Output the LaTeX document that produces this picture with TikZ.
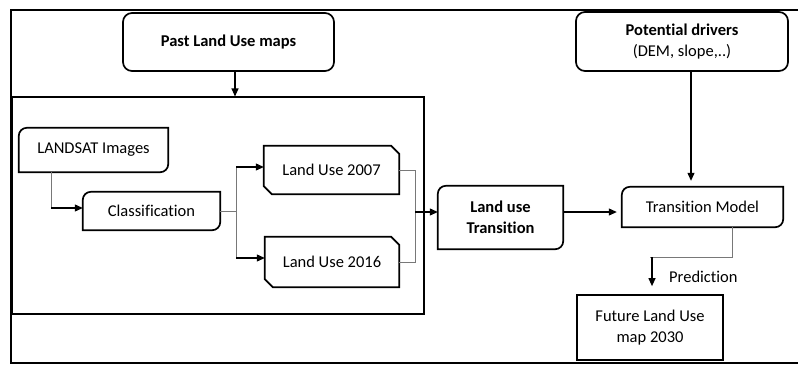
\documentclass[tikz,border=0pt]{standalone}
\usepackage{fontspec}
\setmainfont{Carlito}[Ligatures=NoCommon]
\usetikzlibrary{arrows.meta,calc}
\definecolor{thinc}{RGB}{120,120,120}
\tikzset{
  lbl/.style={inner sep=0pt, align=center, font=\fontsize{16.5bp}{21bp}\selectfont},
  boxline/.style={line width=1.7bp, black},
  innerline/.style={line width=1.1bp, black},
  thinline/.style={line width=0.8bp, thinc},
  arr/.style={line width=1.1bp, black, -{Triangle[length=8bp,width=7bp]}},
}
\newcommand\rdiag[1]{%
  \draw[boxline] ([yshift=-8bp]#1.north west) arc[start angle=180,end angle=90,radius=8bp]
    -- (#1.north east) -- ([yshift=8bp]#1.south east)
    arc[start angle=0,end angle=-90,radius=8bp] -- (#1.south west) -- cycle;}
\newcommand\snipdiag[1]{%
  \draw[boxline] (#1.north west) -- ([xshift=-8bp]#1.north east) -- ([yshift=-8bp]#1.north east)
    -- (#1.south east) -- ([xshift=8bp]#1.south west) -- ([yshift=8bp]#1.south west) -- cycle;}
\begin{document}
\begin{tikzpicture}[x=1bp,y=-1bp]
\useasboundingbox (0,0) rectangle (798,365);
% outer frame (right side cut off)
\draw[line width=1.4bp] (798,10) -- (11,10) -- (11,363) -- (798,363);
% inner box
\node[draw, innerline, minimum width=412bp, minimum height=217bp, inner sep=0pt] (inner) at (218,205.5) {};
% boxes
\node[lbl, draw, boxline, rounded corners=9bp, minimum width=211bp, minimum height=58bp] (past) at (228.5,42) {\textbf{Past Land Use maps}};
\node[lbl, draw, boxline, rounded corners=9bp, minimum width=212bp, minimum height=59bp] (drivers) at (682,41.5) {\textbf{Potential drivers}\\(DEM, slope,..)};
\node[lbl, minimum width=149bp, minimum height=44bp] (landsat) at (93.5,150) {LANDSAT Images};
\rdiag{landsat}
\node[lbl, minimum width=137bp, minimum height=38bp] (classif) at (151.5,211) {Classification};
\rdiag{classif}
\node[lbl, minimum width=135bp, minimum height=48bp] (lu07) at (331.5,170) {Land Use 2007};
\snipdiag{lu07}
\node[lbl, minimum width=134bp, minimum height=50bp] (lu16) at (332,262) {Land Use 2016};
\snipdiag{lu16}
\node[lbl, minimum width=125bp, minimum height=63bp] (lut) at (500.5,217.5) {\textbf{Land use}\\\textbf{Transition}};
\rdiag{lut}
\node[lbl, minimum width=161bp, minimum height=40bp] (tm) at (702.5,207) {Transition Model};
\rdiag{tm}
\node[lbl, draw, boxline, minimum width=146bp, minimum height=65bp] (future) at (650,327.5) {Future Land Use\\map 2030};
\node[lbl, anchor=west] (pred) at (669,277) {Prediction};
% connectors
\draw[arr] ([xshift=6.5bp]past.south) -- ([xshift=6.5bp]past.south |- inner.north);
\draw[arr, shorten >=6bp] ([xshift=9bp]drivers.south) -- ([xshift=9bp]drivers.south |- tm.north);
\path ([xshift=-42.5bp]landsat.south) coordinate (ls) ([yshift=3bp]classif.west) coordinate (cw);
\draw[thinline] (ls) -- (ls |- cw);
\draw[arr] (ls |- cw) -- (cw);
\draw[thinline] (classif.east) -- ++(16,0) coordinate (sp);
\path ([yshift=3bp]lu07.west) coordinate (w07) ([yshift=4bp]lu16.west) coordinate (w16);
\draw[thinline] (sp |- w07) -- (sp |- w16);
\draw[arr] (sp |- w07) -- (w07);
\draw[arr] (sp |- w16) -- (w16);
\coordinate (m) at (415,212);
\draw[thinline] (lu07.east) -| (m);
\draw[thinline] (lu16.east) -| (m);
\draw[arr] (m) -- (lut.west |- m);
\draw[arr, shorten >=5bp] (lut.east |- m) -- (tm.west |- m);
\draw[thinline] ([xshift=29.5bp]tm.south) -- ++(0,30) coordinate (pb) -- (pb -| future.north) coordinate (pc);
\draw[arr, shorten >=8bp] ([xshift=2bp]pc) -- ([xshift=2bp]future.north);
\end{tikzpicture}
\end{document}
